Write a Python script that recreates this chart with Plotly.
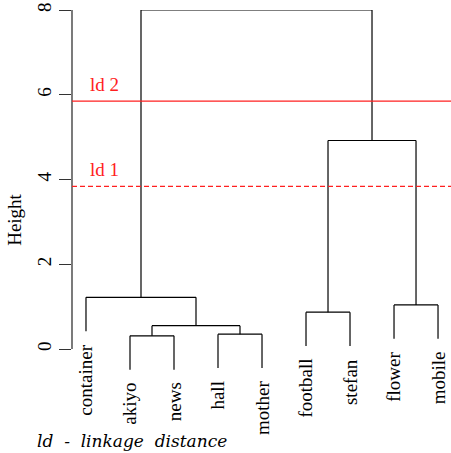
import plotly.graph_objects as go

# ---- data ----
leaf_labels = ["container", "akiyo", "news", "hall", "mother",
               "football", "stefan", "flower", "mobile"]
# R-style merge matrix: negative = leaf (1-based position), positive = earlier merge
merge_left = [-2, -4, 1, -6, -8, -1, 4, 6]
merge_right = [-3, -5, 2, -7, -9, 3, 5, 7]
merge_heights = [0.31, 0.35, 0.55, 0.87, 1.04, 1.22, 4.92, 8.0]
cut_names = ["ld 1", "ld 2"]
cut_heights = [3.84, 5.85]
cut_dash = ["5px,3px", "solid"]
y_ticks = [0, 2, 4, 6, 8]

hang = 0.1 * max(merge_heights)

SERIF = "Liberation Serif"

# ---- build dendrogram segments ----
cl_x = []
xs, ys = [], []
leaf_bottom = {}
for i, (a, b) in enumerate(zip(merge_left, merge_right)):
    h = merge_heights[i]
    cx = []
    for c in (a, b):
        if c < 0:
            x = -c
            y0 = h - hang
            leaf_bottom[-c] = y0
        else:
            x = cl_x[c - 1]
            y0 = merge_heights[c - 1]
        xs += [x, x, None]
        ys += [y0, h, None]
        cx.append(x)
    xs += [cx[0], cx[1], None]
    ys += [h, h, None]
    cl_x.append((cx[0] + cx[1]) / 2)

fig = go.Figure()
fig.add_trace(go.Scatter(x=xs, y=ys, mode="lines",
                         line=dict(color="black", width=1.2),
                         hoverinfo="skip", showlegend=False))

annotations = []
for k, lab in enumerate(leaf_labels, start=1):
    annotations.append(dict(x=k, y=leaf_bottom[k], xref="x", yref="y",
                            text=lab, textangle=-90, showarrow=False,
                            xanchor="center", yanchor="top", yshift=-11,
                            font=dict(family=SERIF, size=19, color="black")))

shapes = [dict(type="line", xref="paper", yref="y", x0=0, x1=0,
               y0=min(y_ticks), y1=max(y_ticks),
               line=dict(color="#333", width=1.3))]
for name, h, d in zip(cut_names, cut_heights, cut_dash):
    shapes.append(dict(type="line", xref="paper", yref="y", x0=0, x1=1,
                       y0=h, y1=h, line=dict(color="#ff2020", width=1.2, dash=d)))
    annotations.append(dict(x=0.042, y=h, xref="paper", yref="y", text=name,
                            showarrow=False, xanchor="left", yanchor="bottom",
                            yshift=4,
                            font=dict(family=SERIF, size=19, color="#ff2020")))

annotations.append(dict(x=-0.0976, y=-0.026, xref="paper", yref="paper",
                        text="<i>ld  -  linkage  distance</i>", showarrow=False,
                        xanchor="left", yanchor="middle",
                        font=dict(family="DejaVu Serif", size=17, color="black")))

fig.update_layout(
    width=451, height=453,
    margin=dict(l=72, r=0, t=10, b=23),
    plot_bgcolor="white", paper_bgcolor="white",
    xaxis=dict(visible=False, range=[0.682, 9.295]),
    yaxis=dict(range=[-1.9115, 8], tickvals=y_ticks, ticks="outside", ticklen=12,
               tickcolor="#333", tickwidth=1.3, tickangle=-90,
               showgrid=False, zeroline=False, showline=False,
               tickfont=dict(family=SERIF, size=19, color="black"),
               title=dict(text="Height", standoff=7,
                          font=dict(family=SERIF, size=19, color="black"))),
    shapes=shapes,
    annotations=annotations,
)

fig.write_html("out.html", config={"displayModeBar": False},
               post_script="document.body.style.margin='0';document.body.style.overflow='hidden';")
